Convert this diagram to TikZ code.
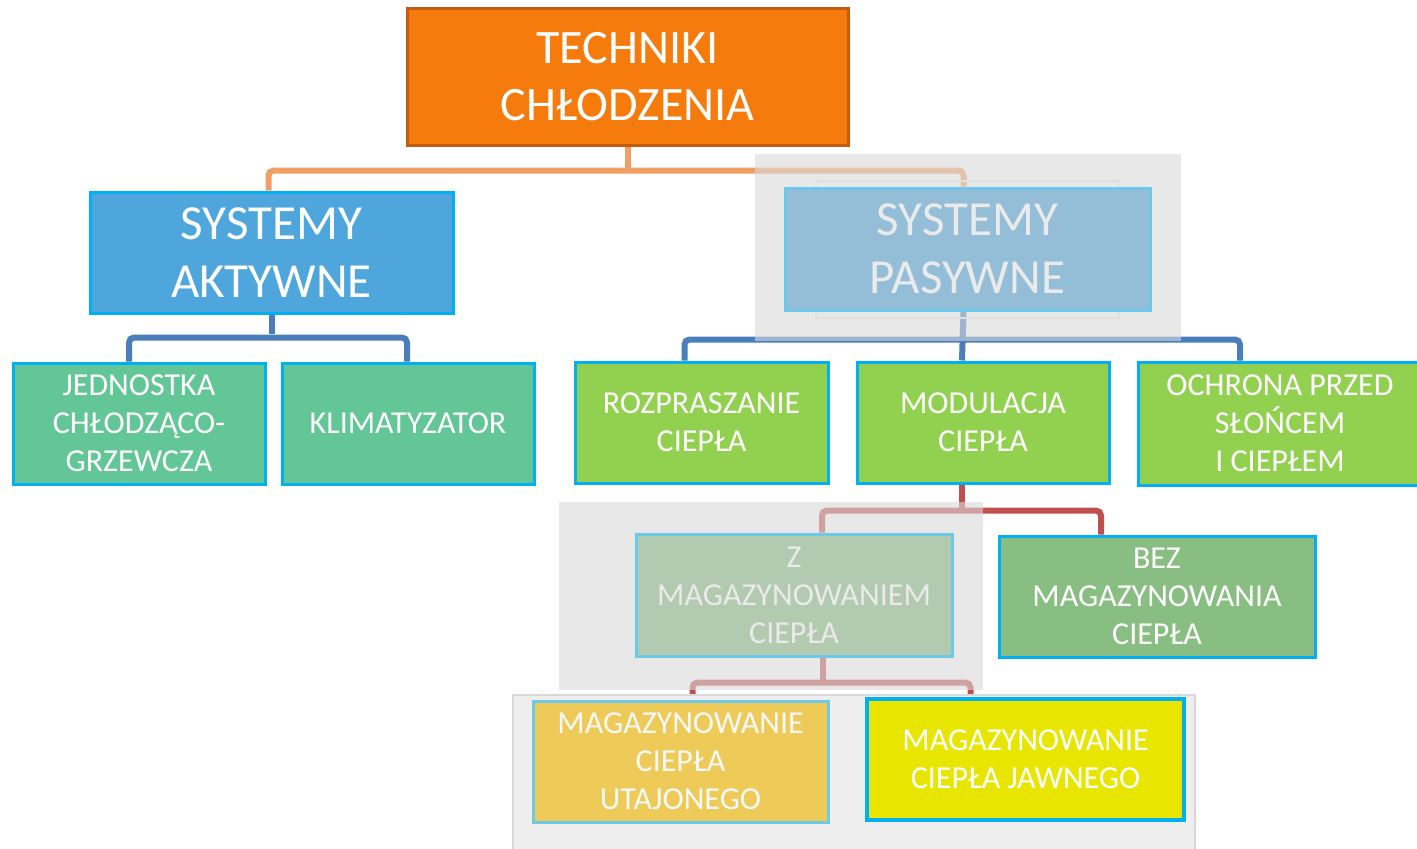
\documentclass[tikz,border=0pt]{standalone}
\usepackage{fontspec}
\setmainfont{Carlito}
\usetikzlibrary{positioning}

\definecolor{topfill}{RGB}{245,124,12}
\definecolor{topedge}{RGB}{197,90,17}
\definecolor{aktfill}{RGB}{78,166,220}
\definecolor{pasfill}{RGB}{148,190,216}
\definecolor{boxcyan}{RGB}{0,176,240}
\definecolor{fadecyan}{RGB}{110,200,232}
\definecolor{fadetext}{RGB}{234,234,234}
\definecolor{tealfill}{RGB}{98,198,150}
\definecolor{limefill}{RGB}{146,208,80}
\definecolor{zfill}{RGB}{178,203,176}
\definecolor{bezfill}{RGB}{137,190,130}
\definecolor{utajfill}{RGB}{238,202,88}
\definecolor{jawfill}{RGB}{232,230,0}
\definecolor{linkorange}{RGB}{240,160,100}
\definecolor{linkblue}{RGB}{74,126,187}
\definecolor{linkred}{RGB}{192,80,77}
\definecolor{shadegray}{RGB}{217,217,217}
\definecolor{basegray}{RGB}{238,238,238}

\pgfdeclarelayer{links}
\pgfdeclarelayer{shade}
\pgfsetlayers{links,shade,main}

\begin{document}
\begin{tikzpicture}[x=1pt,y=-1pt]
\tikzset{
  box/.style={rectangle,draw=boxcyan,line width=3pt,text=white,align=center,inner sep=2pt,font=\fontsize{32}{38}\selectfont},
  bigbox/.style={box,font=\fontsize{49}{58}\selectfont},
  fadedbox/.style={box,draw=fadecyan,text=fadetext},
  link/.style={line width=6pt,rounded corners=5pt},
  orangelink/.style={link,draw=linkorange},
  bluelink/.style={link,draw=linkblue},
  redlink/.style={link,draw=linkred},
  shadebox/.style={fill=shadegray,fill opacity=0.6,draw=none}
}
\useasboundingbox (0,0) rectangle (1417,849);

% top level
\node[box,draw=topedge,fill=topfill,minimum width=441pt,minimum height=137pt,font=\fontsize{48}{57}\selectfont] (n_top) at (627.5,76.5) {TECHNIKI\\CHŁODZENIA};

% systems
\node[bigbox,fill=aktfill,minimum width=363pt,minimum height=121pt] (n_akt) at (271.5,252.5) {SYSTEMY\\AKTYWNE};
\node[bigbox,fadedbox,fill=pasfill,font=\fontsize{49}{58}\selectfont,minimum width=365pt,minimum height=122pt] (n_pas) at (967.5,249) {SYSTEMY\\PASYWNE};

% active branch
\node[box,fill=tealfill,minimum width=252pt,minimum height=121pt] (n_jed) at (139,423.5) {JEDNOSTKA\\CHŁODZĄCO-\\GRZEWCZA};
\node[box,fill=tealfill,minimum width=252pt,minimum height=121pt] (n_kli) at (408,423.5) {KLIMATYZATOR};

% passive branch
\node[box,fill=limefill,minimum width=253pt,minimum height=121pt] (n_roz) at (701.5,422.5) {ROZPRASZANIE\\CIEPŁA};
\node[box,fill=limefill,minimum width=252pt,minimum height=121pt] (n_mod) at (983,422.5) {MODULACJA\\CIEPŁA};
\node[box,fill=limefill,minimum width=284pt,minimum height=123pt] (n_och) at (1280,423.5) {OCHRONA PRZED\\SŁOŃCEM\\I CIEPŁEM};

% modulation
\node[fadedbox,fill=zfill,minimum width=316pt,minimum height=122pt] (n_zmag) at (794,595) {Z\\MAGAZYNOWANIEM\\CIEPŁA};
\node[box,fill=bezfill,minimum width=316pt,minimum height=121pt] (n_bez) at (1157,596.5) {BEZ\\MAGAZYNOWANIA\\CIEPŁA};

% storage
\node[fadedbox,fill=utajfill,text=white!95!gray,minimum width=295pt,minimum height=121pt] (n_utaj) at (680.5,761.5) {MAGAZYNOWANIE\\CIEPŁA\\UTAJONEGO};
\node[box,fill=jawfill,line width=4pt,minimum width=317pt,minimum height=121pt] (n_jaw) at (1025.5,759.5) {MAGAZYNOWANIE\\CIEPŁA JAWNEGO};

\begin{pgfonlayer}{links}
\draw[orangelink] ([xshift=-3pt]n_akt.north) |- ++(359,-20) -| ([xshift=-4pt]n_pas.north);
\draw[orangelink,rounded corners=0pt] (n_top.south) -- ++(0,21);
\draw[bluelink] ([xshift=-10pt]n_jed.north) |- ++(132,-24) -| ([xshift=-1pt]n_kli.north);
\draw[bluelink,rounded corners=0pt] (n_akt.south) -- ++(0,19);
\draw[bluelink] ([xshift=-17pt]n_roz.north) |- ++(278,-21) -| ([xshift=-40pt]n_och.north);
\draw[bluelink,rounded corners=0pt] ([xshift=-4pt]n_pas.south) -- ([xshift=-21pt]n_mod.north);
\draw[redlink] ([xshift=28pt]n_zmag.north) |- ++(140,-22) -| ([xshift=-56pt]n_bez.north);
\draw[redlink,rounded corners=0pt] ([xshift=-21pt]n_mod.south) -- ++(0,24);
\draw[redlink] ([xshift=12pt]n_utaj.north) |- ++(131,-17) -| ([xshift=-55pt]n_jaw.north);
\draw[redlink,rounded corners=0pt] ([xshift=29pt]n_zmag.south) -- ++(0,23);
\end{pgfonlayer}

\begin{pgfonlayer}{shade}
\fill[shadebox] (755,154) rectangle (1181,341);
\draw[draw=black!12,line width=2pt] (816,181) rectangle (1119,318);
\fill[shadebox] (559,502) rectangle (983,690);
\draw[fill=basegray,draw=black!15,line width=2pt] (513,695) rectangle (1195,860);
\end{pgfonlayer}
\end{tikzpicture}
\end{document}
